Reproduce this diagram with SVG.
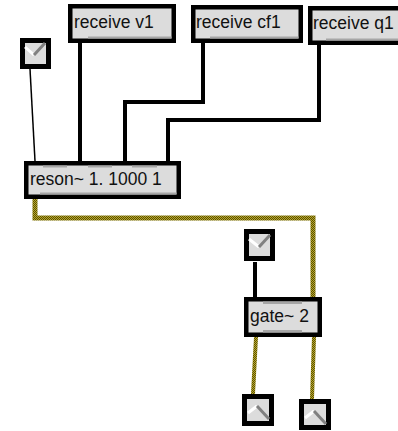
<svg xmlns="http://www.w3.org/2000/svg" width="398" height="431" viewBox="0 0 398 431">
<defs>
<pattern id="sig" width="2" height="2" patternUnits="userSpaceOnUse">
<rect width="2" height="2" fill="#b8a82c"/>
<rect width="1" height="1" fill="#5a4f00"/>
<rect x="1" y="1" width="1" height="1" fill="#5a4f00"/>
</pattern>
</defs>
<style>
.frame{fill:#000}
.fill{fill:#dcdcdc}
.shade{fill:#a6a6a6}
.lbl{font-family:"Liberation Sans",Arial,Helvetica,sans-serif;font-size:17.5px;fill:#111}
.ctl{fill:none;stroke:#000;stroke-width:4}
.thin{fill:none;stroke:#000;stroke-width:1.5}
.sigc{fill:none;stroke:url(#sig);stroke-width:5}
.hi{stroke:#fff;stroke-width:3;fill:none}
.lo{stroke:#808080;stroke-width:3;fill:none}
</style>
<rect width="398" height="431" fill="#fff"/>
<g id="connectors">
<path class="thin" d="M30,69 L35,161"/>
<path class="ctl" d="M80,43 V161"/>
<path class="ctl" d="M203,43 V102 H125 V161"/>
<path class="ctl" d="M319,45 V120 H168 V161"/>
<path class="ctl" d="M255,262 V297"/>
<path class="sigc" d="M35,199 V218 H313 V297"/>
<path class="sigc" style="stroke-width:4" d="M256,337 L253,394"/>
<path class="sigc" style="stroke-width:4" d="M314,337 L312,399"/>
</g>
<g id="receive-v1">
<rect class="frame" x="68" y="4" width="108" height="39"/>
<rect class="fill" x="72.5" y="8.5" width="99" height="30"/>
<rect class="shade" x="88" y="36.5" width="83.5" height="2"/>
<text class="lbl" x="74" y="28">receive v1</text>
</g>
<g id="receive-cf1">
<rect class="frame" x="191" y="5" width="112" height="38"/>
<rect class="fill" x="195.5" y="9.5" width="103" height="29"/>
<rect class="shade" x="210" y="36.5" width="88.5" height="2"/>
<text class="lbl" x="196" y="28">receive cf1</text>
</g>
<g id="receive-q1">
<rect class="frame" x="308" y="6" width="110" height="39"/>
<rect class="fill" x="312.5" y="10.5" width="101" height="30"/>
<rect class="shade" x="326" y="38.5" width="90" height="2"/>
<text class="lbl" x="313" y="29">receive q1</text>
</g>
<g id="toggle-1">
<rect class="frame" x="20" y="38" width="31" height="31"/>
<rect class="fill" x="25" y="43" width="21" height="21"/>
<path class="hi" d="M25,47 L34,55"/>
<path class="lo" d="M34,55 L45,43"/>
</g>
<g id="reson">
<rect class="frame" x="24" y="161" width="157" height="38"/>
<rect class="fill" x="28.5" y="165.5" width="148" height="29"/>
<rect class="shade" x="43" y="165.5" width="24" height="2"/>
<rect class="shade" x="88" y="165.5" width="24" height="2"/>
<rect class="shade" x="132" y="165.5" width="25" height="2"/>
<rect class="shade" x="40" y="192.5" width="136.5" height="2"/>
<text class="lbl" x="30" y="185">reson~ 1. 1000 1</text>
</g>
<g id="toggle-gate">
<rect class="frame" x="244" y="229" width="31" height="32"/>
<rect class="fill" x="249" y="234" width="21" height="22"/>
<path class="hi" d="M249,239 L259,247"/>
<path class="lo" d="M259,247 L270,235"/>
</g>
<g id="gate">
<rect class="frame" x="244" y="297" width="78" height="40"/>
<rect class="fill" x="248.5" y="301.5" width="69" height="31"/>
<rect class="shade" x="263" y="301.5" width="39" height="2.5"/>
<rect class="shade" x="263" y="330" width="39" height="2.5"/>
<text class="lbl" x="250" y="322">gate~ 2</text>
</g>
<g id="toggle-out1">
<rect class="frame" x="242" y="394" width="32" height="32"/>
<rect class="fill" x="247" y="399" width="22" height="22"/>
<path class="hi" d="M248,413 L257,406"/>
<path class="lo" d="M257,406 L269,419"/>
</g>
<g id="toggle-out2">
<rect class="frame" x="299" y="399" width="32" height="31"/>
<rect class="fill" x="304" y="404" width="22" height="21"/>
<path class="hi" d="M305,418 L314,411"/>
<path class="lo" d="M314,411 L326,424"/>
</g>
</svg>
